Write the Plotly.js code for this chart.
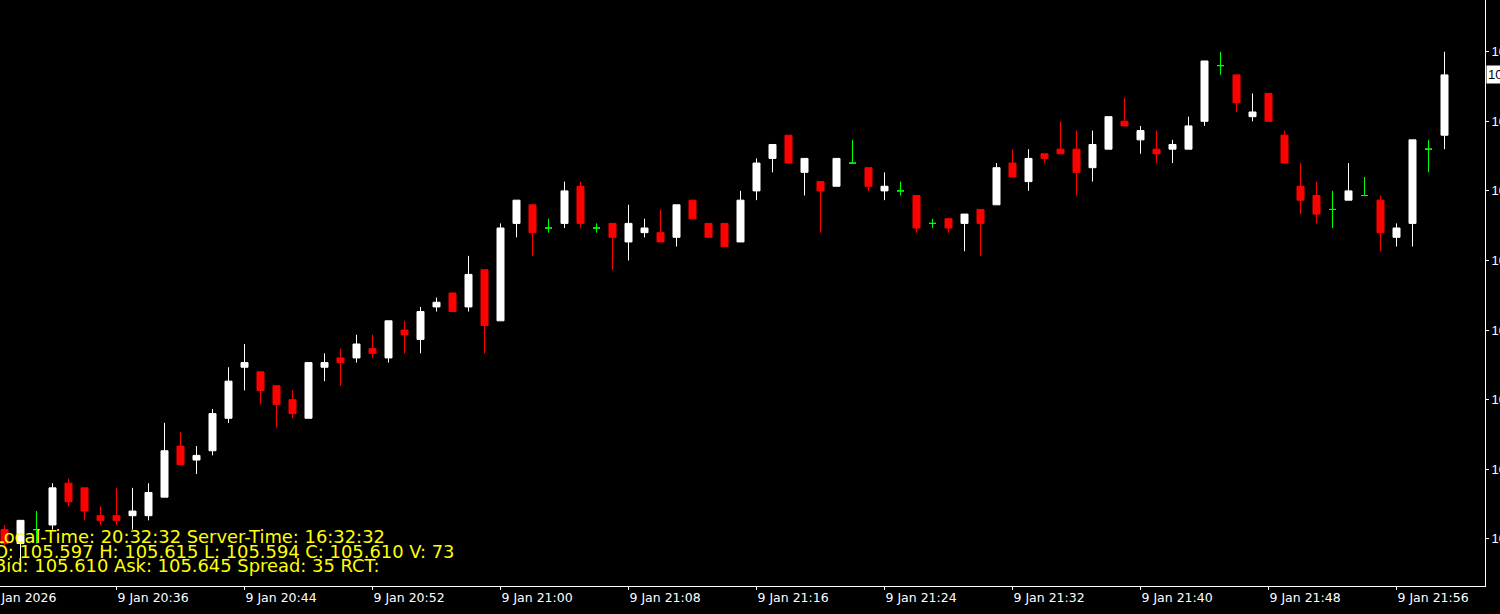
<!DOCTYPE html>
<html>
<head>
<meta charset="utf-8">
<script src="https://cdn.plot.ly/plotly-3.0.1.min.js"></script>
<style>
  html, body { margin: 0; padding: 0; background: #000; overflow: hidden; width: 1500px; height: 614px; }
  #chart { position: absolute; left: -40px; top: 0; width: 1540px; height: 614px; }
</style>
</head>
<body>
<div id="chart"></div>
<script>
// ---- data (9 Jan 2026, M1 bars) ----
const day = "2026-01-09";
const times = [
  "20:29","20:30","20:31","20:32","20:33","20:34","20:35","20:36","20:37","20:38",
  "20:39","20:40","20:41","20:42","20:43","20:44","20:45","20:46","20:47","20:48",
  "20:49","20:50","20:51","20:52","20:53","20:54","20:55","20:56","20:57","20:58",
  "20:59","21:00","21:01","21:02","21:03","21:04","21:05","21:06","21:07","21:08",
  "21:09","21:10","21:11","21:12","21:13","21:14","21:15","21:16","21:17","21:18",
  "21:19","21:20","21:21","21:22","21:23","21:24","21:25","21:26","21:27","21:28",
  "21:29","21:30","21:31","21:32","21:33","21:34","21:35","21:36","21:37","21:38",
  "21:39","21:40","21:41","21:42","21:43","21:44","21:45","21:46","21:47","21:48",
  "21:49","21:50","21:51","21:52","21:53","21:54","21:55","21:56","21:57","21:58",
  "21:59"
];
const openP = [
  105.512,105.509,105.512,105.513,105.522,105.521,105.515,105.515,105.515,105.515,
  105.519,105.530,105.527,105.529,105.536,105.547,105.546,105.543,105.540,105.536,
  105.547,105.549,105.549,105.551,105.549,105.555,105.553,105.560,105.563,105.560,
  105.568,105.557,105.578,105.582,105.577,105.578,105.586,105.577,105.578,105.574,
  105.576,105.576,105.575,105.583,105.578,105.578,105.574,105.585,105.592,105.597,
  105.589,105.587,105.586,105.591,105.590,105.585,105.585,105.584,105.578,105.579,
  105.578,105.581,105.582,105.591,105.587,105.593,105.594,105.594,105.590,105.594,
  105.600,105.596,105.594,105.594,105.594,105.600,105.612,105.610,105.601,105.606,
  105.597,105.586,105.584,105.581,105.583,105.584,105.583,105.575,105.578,105.594,
  105.597
];
const highP = [
  105.513,105.514,105.516,105.522,105.523,105.521,105.517,105.521,105.521,105.522,
  105.535,105.533,105.530,105.538,105.547,105.552,105.546,105.543,105.542,105.548,
  105.550,105.551,105.554,105.554,105.557,105.557,105.560,105.562,105.563,105.571,
  105.568,105.578,105.583,105.582,105.579,105.587,105.587,105.578,105.578,105.582,
  105.579,105.581,105.582,105.583,105.578,105.578,105.585,105.592,105.595,105.597,
  105.592,105.587,105.592,105.596,105.590,105.589,105.587,105.584,105.579,105.579,
  105.580,105.581,105.591,105.594,105.594,105.593,105.600,105.598,105.598,105.601,
  105.605,105.599,105.598,105.596,105.601,105.613,105.615,105.610,105.606,105.606,
  105.598,105.591,105.587,105.585,105.591,105.588,105.584,105.578,105.596,105.596,
  105.615
];
const lowP = [
  105.508,105.504,105.509,105.512,105.517,105.514,105.513,105.513,105.512,105.514,
  105.519,105.526,105.524,105.528,105.535,105.542,105.539,105.534,105.536,105.536,
  105.544,105.543,105.548,105.549,105.548,105.550,105.550,105.559,105.559,105.559,
  105.550,105.557,105.575,105.571,105.576,105.577,105.577,105.576,105.568,105.570,
  105.575,105.574,105.573,105.579,105.575,105.573,105.574,105.583,105.589,105.591,
  105.584,105.576,105.586,105.591,105.585,105.583,105.584,105.576,105.577,105.576,
  105.572,105.571,105.582,105.588,105.585,105.591,105.593,105.584,105.587,105.594,
  105.599,105.593,105.591,105.591,105.594,105.599,105.610,105.602,105.600,105.600,
  105.591,105.580,105.578,105.577,105.583,105.584,105.572,105.573,105.573,105.589,
  105.594
];
const closeP = [
  105.509,105.514,105.512,105.521,105.518,105.516,105.514,105.514,105.516,105.520,
  105.529,105.526,105.528,105.537,105.544,105.548,105.542,105.539,105.537,105.548,
  105.548,105.548,105.552,105.550,105.557,105.554,105.559,105.561,105.559,105.567,
  105.556,105.577,105.583,105.576,105.577,105.585,105.578,105.577,105.575,105.578,
  105.577,105.574,105.582,105.579,105.575,105.573,105.583,105.591,105.595,105.591,
  105.592,105.585,105.592,105.591,105.586,105.586,105.585,105.577,105.578,105.577,
  105.580,105.578,105.590,105.588,105.592,105.592,105.593,105.589,105.595,105.601,
  105.599,105.598,105.593,105.595,105.599,105.613,105.612,105.604,105.602,105.600,
  105.591,105.583,105.580,105.581,105.585,105.584,105.576,105.577,105.596,105.594,
  105.610
];
// axis ticks
const xTickTimes = ["20:28","20:36","20:44","20:52","21:00","21:08","21:16","21:24","21:32","21:40","21:48","21:56"];
const xTickLabels = ["9 Jan 2026","9 Jan 20:36","9 Jan 20:44","9 Jan 20:52","9 Jan 21:00","9 Jan 21:08","9 Jan 21:16","9 Jan 21:24","9 Jan 21:32","9 Jan 21:40","9 Jan 21:48","9 Jan 21:56"];
const yTickVals = [105.510,105.525,105.540,105.555,105.570,105.585,105.600,105.615];
// info lines
const infoLines = [
  "Local-Time: 20:32:32 Server-Time: 16:32:32",
  "O: 105.597 H: 105.615 L: 105.594 C: 105.610 V: 73",
  "Bid: 105.610 Ask: 105.645 Spread: 35 RCT:"
];
const bidPrice = 105.610;

// ---- build traces ----
const X = times.map(t => day + " " + t);
const reg = {x:[],o:[],h:[],l:[],c:[]}, doji = {x:[],o:[],h:[],l:[],c:[]};
for (let i = 0; i < X.length; i++) {
  const tgt = (openP[i] === closeP[i]) ? doji : reg;
  tgt.x.push(X[i]); tgt.o.push(openP[i]); tgt.h.push(highP[i]); tgt.l.push(lowP[i]); tgt.c.push(closeP[i]);
}
const traces = [
  {
    type: "candlestick", x: reg.x, open: reg.o, high: reg.h, low: reg.l, close: reg.c,
    increasing: {line: {color: "#FFFFFF", width: 1}, fillcolor: "#FFFFFF"},
    decreasing: {line: {color: "#FF0000", width: 1}, fillcolor: "#FF0000"},
    whiskerwidth: 0, hoverinfo: "skip", showlegend: false
  },
  {
    type: "candlestick", x: doji.x, open: doji.o, high: doji.h, low: doji.l, close: doji.c,
    increasing: {line: {color: "#00FF00", width: 1}, fillcolor: "#00FF00"},
    decreasing: {line: {color: "#00FF00", width: 1}, fillcolor: "#00FF00"},
    whiskerwidth: 0, hoverinfo: "skip", showlegend: false
  }
];

const axisFont = {family: "DejaVu Sans, Verdana, sans-serif", size: 12.5, color: "#FFFFFF"};
const yFont = {family: "Liberation Sans, Arial, sans-serif", size: 13, color: "#FFFFFF"};
const infoFont = {family: "DejaVu Sans, Verdana, sans-serif", size: 17.9, color: "#FFFF00"};

const annotations = infoLines.map((t, i) => ({
  xref: "paper", yref: "paper", x: 0, y: 0, xanchor: "left", yanchor: "middle",
  xshift: 32, yshift: [50, 35, 21][i], showarrow: false, text: t, font: infoFont
}));
annotations.push({
  xref: "paper", yref: "y", x: 1, y: bidPrice, xanchor: "left", yanchor: "middle",
  xshift: 1, showarrow: false, text: bidPrice.toFixed(3),
  font: {family: yFont.family, size: 13, color: "#000000"},
  bgcolor: "#FFFFFF", borderpad: 1
});

const layout = {
  width: 1540, height: 614,
  margin: {l: 0, r: 15, t: 0, b: 28, pad: 0},
  paper_bgcolor: "#000000", plot_bgcolor: "#000000",
  showlegend: false, boxgap: 0.375, dragmode: false,
  xaxis: {
    type: "date", range: [day + " 20:26:13.125", day + " 22:01:31.875"],
    showgrid: false, zeroline: false, showline: true, linecolor: "#FFFFFF", linewidth: 1,
    ticks: "outside", ticklen: 3, tickcolor: "#FFFFFF", tickwidth: 1,
    tickmode: "array", tickvals: xTickTimes.map(t => day + " " + t), ticktext: xTickLabels,
    ticklabelposition: "outside right", tickfont: axisFont,
    rangeslider: {visible: false}, fixedrange: true
  },
  yaxis: {
    side: "right", range: [105.49985, 105.62614],
    showgrid: false, zeroline: false, showline: true, linecolor: "#FFFFFF", linewidth: 1,
    ticks: "outside", ticklen: 3, tickcolor: "#FFFFFF", tickwidth: 1,
    tickmode: "array", tickvals: yTickVals, tickformat: ".3f", tickfont: yFont,
    fixedrange: true
  },
  annotations: annotations
};

Plotly.newPlot("chart", traces, layout, {staticPlot: true, displayModeBar: false});
</script>
</body>
</html>
